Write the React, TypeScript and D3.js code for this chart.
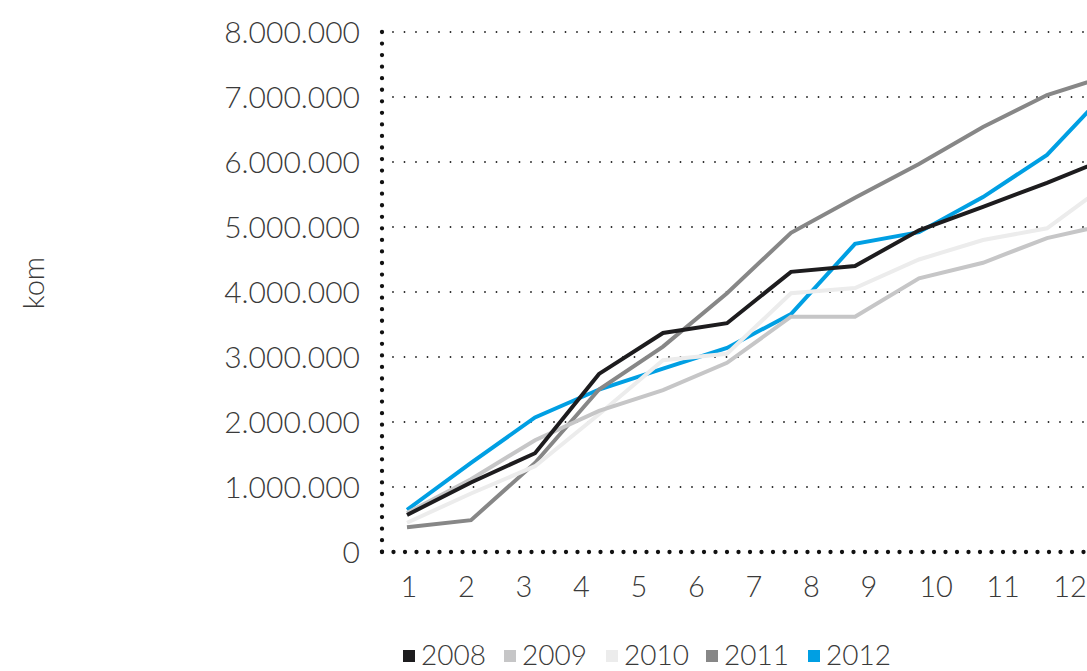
import React from "react";
import * as d3 from "d3";

const months = [1, 2, 3, 4, 5, 6, 7, 8, 9, 10, 11, 12];
const years = ["2008", "2009", "2010", "2011", "2012"];
const colors = ["#1d1c1e", "#c6c6c7", "#ececec", "#878787", "#009fe3"];
const s2008 = [0.57, 1.07, 1.52, 2.74, 3.37, 3.52, 4.31, 4.4, 4.95, 5.31, 5.68, 6.08];
const s2009 = [0.6, 1.12, 1.72, 2.17, 2.49, 2.91, 3.62, 3.62, 4.21, 4.45, 4.83, 5.05];
const s2010 = [0.45, 0.9, 1.32, 2.12, 2.95, 3.05, 3.98, 4.06, 4.5, 4.8, 4.98, 5.7];
const s2011 = [0.38, 0.49, 1.37, 2.5, 3.16, 3.98, 4.91, 5.45, 5.97, 6.54, 7.03, 7.34];
const s2012 = [0.65, 1.37, 2.07, 2.5, 2.82, 3.14, 3.66, 4.74, 4.92, 5.46, 6.11, 7.15];
const series = [s2008, s2009, s2010, s2011, s2012];
const yTicks = [0, 1, 2, 3, 4, 5, 6, 7, 8];
const yTickLabels = ["0", "1.000.000", "2.000.000", "3.000.000", "4.000.000", "5.000.000", "6.000.000", "7.000.000", "8.000.000"];
const yAxisTitle = "kom";

const W = 1087;
const H = 671;
const FONT = "Lato, 'Open Sans', sans-serif";
const TXT = "#3a3a3a";

export default function App() {
  const x = d3.scaleLinear().domain([1, 12]).range([407, 1111]);
  const xLabel = d3.scaleLinear().domain([1, 9, 12]).range([409, 869, 1070]);
  const y = d3.scaleLinear().domain([0, 8]).range([552, 32]);
  const line = d3
    .line<number>()
    .x((_, i) => x(months[i]))
    .y((d) => y(d));

  const axisX = 382;
  const legendItems = [
    { x: 403, tx: 421 },
    { x: 504, tx: 522 },
    { x: 606, tx: 624 },
    { x: 706, tx: 724 },
    { x: 808, tx: 826 },
  ];

  return (
    <svg
      width={W}
      height={H}
      style={{ position: "absolute", left: 0, top: 0, background: "#fff" }}
      fontFamily={FONT}
    >
      <rect width={W} height={H} fill="#fff" />
      {yTicks.slice(1).map((t) => (
        <line
          key={t}
          x1={393}
          x2={W + 20}
          y1={y(t)}
          y2={y(t)}
          stroke="#222"
          strokeWidth={1.8}
          strokeLinecap="round"
          strokeDasharray="0 11.5"
        />
      ))}
      <line
        x1={axisX}
        x2={axisX}
        y1={y(8)}
        y2={y(0)}
        stroke="#111"
        strokeWidth={4.3}
        strokeLinecap="round"
        strokeDasharray="0 11.55"
      />
      <line
        x1={axisX}
        x2={W + 20}
        y1={y(0)}
        y2={y(0)}
        stroke="#111"
        strokeWidth={4.3}
        strokeLinecap="round"
        strokeDasharray="0 11.5"
      />
      {yTicks.map((t, i) => (
        <text
          key={t}
          x={360}
          y={y(t)}
          dy="0.36em"
          textAnchor="end"
          fontSize={30}
          fontWeight={300}
          fill={TXT}
        >
          {yTickLabels[i]}
        </text>
      ))}
      {months.map((m) => (
        <text
          key={m}
          x={xLabel(m)}
          y={597}
          textAnchor="middle"
          fontSize={29}
          fontWeight={300}
          fill={TXT}
        >
          {m}
        </text>
      ))}
      <text
        transform={`translate(44,${283}) rotate(-90)`}
        textAnchor="middle"
        fontSize={29}
        fontWeight={300}
        fill={TXT}
      >
        {yAxisTitle}
      </text>
      {series
        .map((s, i) => ({ s, i }))
        .reverse()
        .map(({ s, i }) => (
          <path
            key={years[i]}
            d={line(s) || ""}
            fill="none"
            stroke={colors[i]}
            strokeWidth={4}
            strokeLinejoin="miter"
          />
        ))}
      {years.map((yr, i) => (
        <g key={yr}>
          <rect x={legendItems[i].x} y={650} width={12} height={12} fill={colors[i]} />
          <text x={legendItems[i].tx} y={665} fontSize={28} fontWeight={300} fill={TXT}>
            {yr}
          </text>
        </g>
      ))}
    </svg>
  );
}
